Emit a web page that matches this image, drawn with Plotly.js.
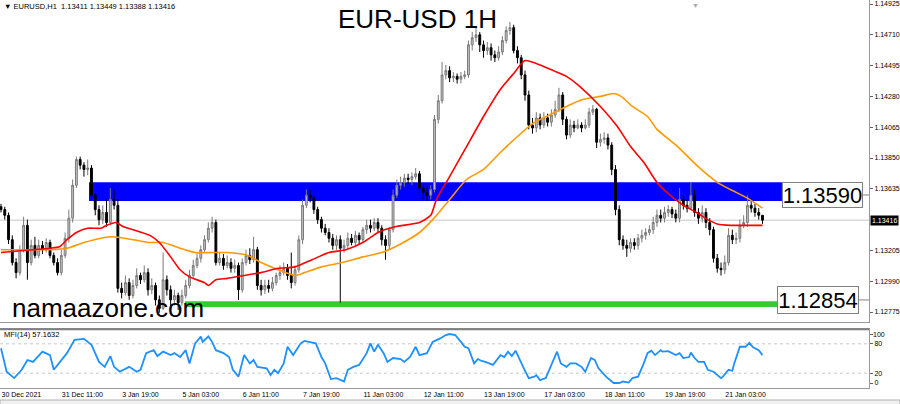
<!DOCTYPE html>
<html>
<head>
<meta charset="utf-8">
<script src="https://cdn.plot.ly/plotly-3.0.1.min.js"></script>
<style>html,body{margin:0;padding:0;background:#fff;}#chart{width:900px;height:404px;}</style>
</head>
<body>
<div id="chart"></div>
<script>
// ---- Price candles (each candle = 2 hourly bars) ----
const candleOpen = [1.1351,1.1349,1.1345,1.1328,1.1312,1.1305,1.1321,1.1338,1.1312,1.1324,1.1317,1.1324,1.1321,1.1326,1.1317,1.1312,1.1305,1.1317,1.1329,1.1343,
1.1366,1.1384,1.1380,1.1377,1.1378,1.1359,1.1349,1.1342,1.1347,1.1340,1.1356,1.1352,1.1294,1.1291,1.1298,1.1289,1.1296,1.1303,1.1300,1.1305,
1.1293,1.1296,1.1286,1.1280,1.1300,1.1293,1.1286,1.1289,1.1284,1.1289,1.1296,1.1303,1.1310,1.1315,1.1321,1.1328,1.1336,1.1340,1.1312,1.1315,
1.1310,1.1312,1.1308,1.1310,1.1293,1.1312,1.1317,1.1314,1.1321,1.1296,1.1293,1.1296,1.1294,1.1298,1.1303,1.1305,1.1308,1.1303,1.1298,1.1307,
1.1328,1.1352,1.1359,1.1357,1.1349,1.1342,1.1336,1.1333,1.1329,1.1324,1.1328,1.1322,1.1324,1.1329,1.1326,1.1331,1.1328,1.1335,1.1338,1.1336,
1.1340,1.1336,1.1328,1.1324,1.1335,1.1359,1.1366,1.1368,1.1371,1.1370,1.1372,1.1374,1.1364,1.1361,1.1359,1.1363,1.1412,1.1425,1.1443,1.1446,
1.1441,1.1442,1.1440,1.1442,1.1443,1.1464,1.1469,1.1471,1.1464,1.1460,1.1462,1.1457,1.1455,1.1459,1.1467,1.1474,1.1476,1.1460,1.1455,1.1443,
1.1429,1.1408,1.1406,1.1413,1.1408,1.1413,1.1410,1.1415,1.1419,1.1429,1.1412,1.1401,1.1408,1.1406,1.1408,1.1406,1.1408,1.1417,1.1419,1.1396,
1.1398,1.1399,1.1394,1.1377,1.1349,1.1328,1.1324,1.1322,1.1326,1.1324,1.1329,1.1331,1.1333,1.1335,1.1340,1.1345,1.1343,1.1347,1.1349,1.1346,
1.1343,1.1356,1.1352,1.1350,1.1359,1.1347,1.1343,1.1347,1.1340,1.1335,1.1315,1.1308,1.1307,1.1312,1.1331,1.1328,1.1329,1.1338,1.1340,1.1352,
1.1350,1.1347,1.1345];
const candleHigh = [1.1353,1.1351,1.1347,1.1331,1.1315,1.1324,1.1344,1.1342,1.1328,1.1330,1.1328,1.1327,1.1329,1.1328,1.1319,1.1315,1.1321,1.1333,1.1349,1.1370,
1.1386,1.1386,1.1382,1.1384,1.1380,1.1361,1.1352,1.1352,1.1356,1.1364,1.1363,1.1356,1.1298,1.1303,1.1301,1.1300,1.1308,1.1305,1.1310,1.1308,
1.1301,1.1298,1.1289,1.1319,1.1303,1.1296,1.1293,1.1291,1.1293,1.1300,1.1307,1.1314,1.1319,1.1324,1.1331,1.1340,1.1344,1.1342,1.1319,1.1318,
1.1317,1.1315,1.1314,1.1312,1.1315,1.1321,1.1322,1.1330,1.1323,1.1300,1.1300,1.1300,1.1302,1.1305,1.1310,1.1312,1.1311,1.1319,1.1310,1.1331,
1.1356,1.1363,1.1363,1.1359,1.1351,1.1344,1.1339,1.1336,1.1332,1.1331,1.1331,1.1328,1.1333,1.1332,1.1334,1.1333,1.1337,1.1342,1.1342,1.1343,
1.1343,1.1338,1.1331,1.1337,1.1363,1.1370,1.1372,1.1374,1.1374,1.1375,1.1378,1.1376,1.1367,1.1365,1.1366,1.1415,1.1429,1.1452,1.1450,1.1449,
1.1445,1.1444,1.1445,1.1446,1.1467,1.1473,1.1476,1.1473,1.1467,1.1466,1.1465,1.1460,1.1463,1.1470,1.1477,1.1480,1.1478,1.1463,1.1457,1.1446,
1.1432,1.1413,1.1417,1.1416,1.1417,1.1416,1.1419,1.1425,1.1434,1.1431,1.1414,1.1412,1.1411,1.1412,1.1410,1.1412,1.1420,1.1422,1.1420,1.1402,
1.1403,1.1402,1.1396,1.1380,1.1352,1.1331,1.1328,1.1329,1.1329,1.1332,1.1335,1.1336,1.1338,1.1344,1.1349,1.1349,1.1351,1.1352,1.1351,1.1349,
1.1364,1.1359,1.1356,1.1368,1.1363,1.1350,1.1352,1.1350,1.1343,1.1337,1.1318,1.1312,1.1317,1.1336,1.1335,1.1333,1.1342,1.1345,1.1359,1.1357,
1.1353,1.1350,1.1345];
const candleLow = [1.1347,1.1342,1.1325,1.1310,1.1301,1.1303,1.1319,1.1300,1.1310,1.1315,1.1315,1.1318,1.1319,1.1315,1.1310,1.1303,1.1303,1.1315,1.1326,1.1340,
1.1364,1.1377,1.1372,1.1373,1.1356,1.1345,1.1338,1.1339,1.1337,1.1338,1.1349,1.1291,1.1287,1.1289,1.1286,1.1287,1.1294,1.1297,1.1298,1.1289,
1.1290,1.1282,1.1277,1.1279,1.1289,1.1282,1.1282,1.1279,1.1282,1.1287,1.1294,1.1301,1.1308,1.1312,1.1319,1.1326,1.1333,1.1310,1.1310,1.1307,
1.1308,1.1305,1.1305,1.1286,1.1291,1.1310,1.1311,1.1312,1.1293,1.1289,1.1290,1.1291,1.1292,1.1296,1.1300,1.1303,1.1300,1.1294,1.1296,1.1305,
1.1325,1.1350,1.1354,1.1346,1.1339,1.1333,1.1331,1.1326,1.1321,1.1321,1.1284,1.1319,1.1321,1.1324,1.1324,1.1325,1.1326,1.1332,1.1333,1.1334,
1.1333,1.1324,1.1314,1.1321,1.1333,1.1357,1.1363,1.1365,1.1367,1.1366,1.1370,1.1361,1.1356,1.1355,1.1356,1.1361,1.1409,1.1423,1.1440,1.1438,
1.1438,1.1437,1.1437,1.1440,1.1441,1.1460,1.1466,1.1459,1.1455,1.1457,1.1453,1.1452,1.1453,1.1457,1.1465,1.1471,1.1458,1.1451,1.1440,1.1425,
1.1405,1.1402,1.1403,1.1405,1.1406,1.1407,1.1407,1.1413,1.1417,1.1408,1.1398,1.1399,1.1403,1.1405,1.1403,1.1405,1.1406,1.1415,1.1392,1.1393,
1.1395,1.1391,1.1373,1.1345,1.1324,1.1321,1.1316,1.1319,1.1321,1.1321,1.1326,1.1328,1.1331,1.1332,1.1337,1.1340,1.1340,1.1344,1.1343,1.1340,
1.1340,1.1349,1.1347,1.1349,1.1344,1.1339,1.1340,1.1336,1.1331,1.1312,1.1305,1.1303,1.1304,1.1310,1.1325,1.1325,1.1326,1.1336,1.1337,1.1347,
1.1344,1.1342,1.1339];
const candleClose = [1.1349,1.1345,1.1328,1.1312,1.1305,1.1321,1.1338,1.1312,1.1324,1.1317,1.1324,1.1321,1.1326,1.1317,1.1312,1.1305,1.1317,1.1329,1.1343,1.1366,
1.1384,1.1380,1.1377,1.1378,1.1359,1.1349,1.1342,1.1347,1.1340,1.1356,1.1352,1.1294,1.1291,1.1298,1.1289,1.1296,1.1303,1.1300,1.1305,1.1293,
1.1296,1.1286,1.1280,1.1300,1.1293,1.1286,1.1289,1.1284,1.1289,1.1296,1.1303,1.1310,1.1315,1.1321,1.1328,1.1336,1.1340,1.1312,1.1315,1.1310,
1.1312,1.1308,1.1310,1.1293,1.1312,1.1317,1.1314,1.1321,1.1296,1.1293,1.1296,1.1294,1.1298,1.1303,1.1305,1.1308,1.1303,1.1298,1.1307,1.1328,
1.1352,1.1359,1.1357,1.1349,1.1342,1.1336,1.1333,1.1329,1.1324,1.1328,1.1322,1.1324,1.1329,1.1326,1.1331,1.1328,1.1335,1.1338,1.1336,1.1340,
1.1336,1.1328,1.1324,1.1335,1.1359,1.1366,1.1368,1.1371,1.1370,1.1372,1.1374,1.1364,1.1361,1.1359,1.1363,1.1412,1.1425,1.1443,1.1446,1.1441,
1.1442,1.1440,1.1442,1.1443,1.1464,1.1469,1.1471,1.1464,1.1460,1.1462,1.1457,1.1455,1.1459,1.1467,1.1474,1.1476,1.1460,1.1455,1.1443,1.1429,
1.1408,1.1406,1.1413,1.1408,1.1413,1.1410,1.1415,1.1419,1.1429,1.1412,1.1401,1.1408,1.1406,1.1408,1.1406,1.1408,1.1417,1.1419,1.1396,1.1398,
1.1399,1.1394,1.1377,1.1349,1.1328,1.1324,1.1322,1.1326,1.1324,1.1329,1.1331,1.1333,1.1335,1.1340,1.1345,1.1343,1.1347,1.1349,1.1346,1.1343,
1.1356,1.1352,1.1350,1.1359,1.1347,1.1343,1.1347,1.1340,1.1335,1.1315,1.1308,1.1307,1.1312,1.1331,1.1328,1.1329,1.1338,1.1340,1.1352,1.1350,
1.1347,1.1345,1.13416];
const barsPerCandle = 2;

// ---- Moving averages (bar index, price) ----
const maRedBar = [0,17,26,31,35,40,46,53,56,61,65,70,79,84,90,95,100,108,110,114,120,129,138,147,156,165,174,183,192,200,209,222,228,231,238,247,256,265,272,278,286,293,300,307,318,327,334,341,348,355,362,369,375,380,387,394,404];
const maRedVal = [1.1319,1.1321,1.1322,1.1323,1.1328,1.1333,1.1336,1.1336,1.1338,1.1340,1.1337,1.1335,1.1331,1.1326,1.1316,1.1307,1.1302,1.1298,1.1296,1.1300,1.1301,1.1303,1.1305,1.1308,1.1309,1.1314,1.1319,1.1321,1.1326,1.1333,1.1337,1.1340,1.1345,1.1356,1.1372,1.1393,1.1414,1.1433,1.1444,1.1453,1.1450,1.1446,1.1442,1.1435,1.1421,1.1407,1.1393,1.1382,1.1368,1.1359,1.1352,1.1347,1.1342,1.1339,1.1338,1.1338,1.1338];
const maOrangeBar = [0,9,26,35,44,53,59,70,79,86,95,103,112,120,131,138,147,156,161,170,181,192,202,212,222,229,238,247,256,265,274,282,291,300,309,318,325,329,335,343,348,359,369,380,387,396,404];
const maOrangeVal = [1.1321,1.1321,1.1321,1.1322,1.1326,1.1329,1.1330,1.1328,1.1326,1.1326,1.1322,1.1319,1.1319,1.1319,1.1317,1.1312,1.1307,1.1303,1.1305,1.1309,1.1312,1.1316,1.1319,1.1325,1.1333,1.1342,1.1356,1.1370,1.1377,1.1389,1.1400,1.1409,1.1415,1.1421,1.1426,1.1428,1.1430,1.1428,1.1421,1.1414,1.1405,1.1393,1.1380,1.1368,1.1363,1.1357,1.1350];

// ---- MFI(14) (bar index, value) ----
const mfiBar = [0,3,7,11,14,17,22,26,28,30,33,35,39,44,48,52,55,58,60,63,68,72,74,77,81,83,86,90,92,95,98,100,103,106,107,110,112,114,118,121,123,126,129,132,134,136,141,143,145,147,150,152,155,159,161,165,167,170,172,175,178,182,184,187,190,194,196,198,200,203,205,208,212,214,217,220,222,226,229,233,236,238,241,244,246,248,250,251,253,255,257,261,265,267,269,271,273,275,277,280,283,284,286,289,291,295,297,300,302,305,308,310,313,315,317,321,325,328,330,333,335,338,341,343,345,347,350,351,354,358,360,362,365,366,368,370,373,375,378,382,383,386,388,389,392,395,397,399,402,404];
const mfiVal = [71,23,10,27,47,43,64,57,27,37,53,61,88,90,78,43,33,55,33,23,33,23,27,61,67,55,64,57,61,53,67,40,81,95,84,95,84,67,61,53,27,13,57,40,47,33,30,16,27,20,40,74,57,81,86,82,81,53,40,8,10,3,27,33,37,61,81,64,78,61,43,51,49,43,53,74,57,61,84,91,98,100,98,84,74,71,47,40,49,45,43,37,57,53,64,55,66,51,33,10,13,16,6,10,27,64,40,33,40,40,33,23,51,47,30,13,0,0,3,1,10,13,40,61,66,57,67,64,65,57,61,51,53,62,51,43,43,27,23,10,13,27,25,40,74,74,82,73,67,57];

// ---- Axis ticks ----
const priceTicks = [1.14925,1.14710,1.14495,1.14280,1.14065,1.13850,1.13635,1.13205,1.12990,1.12775];
const priceTickText = ['1.14925','1.14710','1.14495','1.14280','1.14065','1.13850','1.13635','1.13205','1.12990','1.12775'];
const timeTickBars = [0,32,64,96,128,160,192,224,256,288,320,352,384];
const timeTickText = ['30 Dec 2021','31 Dec 11:00','3 Jan 19:00','5 Jan 03:00','6 Jan 11:00','7 Jan 19:00','11 Jan 03:00','12 Jan 11:00','13 Jan 19:00','17 Jan 03:00','18 Jan 11:00','19 Jan 19:00','21 Jan 03:00'];
const mfiTicks = [0,20,80,100];
const mfiTickText = ['0','20','80',''];
const mfiTopLabel = {value:100, text:'100'};
const mfiLevels = [20,80];

// ---- Analyst levels ----
const resistanceZone = [1.1355,1.1368];   // blue band
const resistanceStartBar = 46.7;
const resistanceLabel = '1.13590';
const resistanceLabelPrice = 1.13592;
const supportZone = [1.1281,1.1285];      // green band
const supportStartBar = 97.6;
const supportLabel = '1.12854';
const supportLabelPrice = 1.12859;
const labelBar = [414.3, 411.7];
const labelEndBar = [457.3, 455.2];
const lastPrice = 1.13416;

const candleBar = candleOpen.map((_, i) => i * barsPerCandle);
const FONT = 'Liberation Sans, Arial, sans-serif';
const xRange = [-0.53, 460.5];

const traces = [
  {type:'candlestick', x:candleBar, open:candleOpen, high:candleHigh, low:candleLow, close:candleClose,
   xaxis:'x', yaxis:'y', whiskerwidth:0,
   increasing:{line:{color:'#7a7a7a', width:1}, fillcolor:'#c4c4c4'},
   decreasing:{line:{color:'#000000', width:1}, fillcolor:'#000000'},
   hoverinfo:'skip'},
  {type:'scatter', mode:'lines', x:maOrangeBar, y:maOrangeVal, xaxis:'x', yaxis:'y',
   line:{color:'#ff9900', width:1.6, shape:'spline', smoothing:0.6}, hoverinfo:'skip'},
  {type:'scatter', mode:'lines', x:maRedBar, y:maRedVal, xaxis:'x', yaxis:'y',
   line:{color:'#ff0000', width:1.6, shape:'spline', smoothing:0.6}, hoverinfo:'skip'},
  {type:'scatter', mode:'lines', x:mfiBar, y:mfiVal, xaxis:'x2', yaxis:'y2',
   line:{color:'#1e90ff', width:1.8}, hoverinfo:'skip'}
];

const axisLine = '#9a9a9a';
const tickFont = {family:FONT, size:7, color:'#000'};
const layout = {
  width:900, height:404,
  margin:{l:0, r:31, t:0, b:16},
  paper_bgcolor:'#ffffff', plot_bgcolor:'#ffffff',
  showlegend:false,
  font:{family:FONT, size:8, color:'#000'},
  xaxis:{domain:[0,1], anchor:'y', range:xRange, showticklabels:false, ticks:'',
         showgrid:false, zeroline:false, showline:true, mirror:true, linecolor:axisLine, linewidth:1,
         rangeslider:{visible:false}, fixedrange:true},
  yaxis:{domain:[0.170,1], anchor:'x', side:'right', range:[1.12705,1.14953],
         tickvals:priceTicks, ticktext:priceTickText, ticks:'outside', ticklen:3, tickcolor:'#606060',
         tickfont:tickFont, ticklabeloverflow:'allow', ticklabelstandoff:0,
         showgrid:false, zeroline:false, showline:true, mirror:true, linecolor:axisLine, linewidth:1},
  xaxis2:{domain:[0,1], anchor:'y2', range:xRange, matches:'x',
          tickvals:timeTickBars, ticktext:timeTickText, ticks:'', ticklabelposition:'outside right',
          tickfont:{family:FONT, size:7, color:'#000'}, ticklabeloverflow:'allow',
          showgrid:false, zeroline:false, showline:true, mirror:true, linecolor:axisLine, linewidth:1,
          rangeslider:{visible:false}},
  yaxis2:{domain:[0,0.152], anchor:'x2', side:'right', range:[-10.2,110.2],
          tickvals:mfiTicks, ticktext:mfiTickText, ticks:'outside', ticklen:3, tickcolor:'#606060',
          tickfont:tickFont, ticklabeloverflow:'allow', ticklabelstandoff:0,
          showgrid:false, zeroline:false, showline:true, mirror:true, linecolor:axisLine, linewidth:1},
  shapes:[
    {type:'rect', layer:'below', xref:'x', yref:'y', x0:resistanceStartBar, x1:labelBar[0],
     y0:resistanceZone[0], y1:resistanceZone[1], fillcolor:'#0000ff', line:{width:0}},
    {type:'rect', layer:'below', xref:'x', yref:'y', x0:supportStartBar, x1:labelBar[1],
     y0:supportZone[0], y1:supportZone[1], fillcolor:'#33cc33', line:{width:0}},
    {type:'line', layer:'below', xref:'x domain', yref:'y', x0:0, x1:1, y0:lastPrice, y1:lastPrice,
     line:{color:'#d9d9d9', width:1.5}},
    {type:'line', xref:'x', yref:'y', x0:labelEndBar[0], x1:xRange[1], y0:resistanceLabelPrice, y1:resistanceLabelPrice,
     line:{color:'#808080', width:1}},
    {type:'line', xref:'x', yref:'y', x0:labelEndBar[1], x1:xRange[1], y0:supportLabelPrice, y1:supportLabelPrice,
     line:{color:'#808080', width:1}},
    ...mfiLevels.map(v => ({type:'line', layer:'below', xref:'x2 domain', yref:'y2', x0:0, x1:1, y0:v, y1:v,
     line:{color:'#c8c8c8', width:1, dash:'dot'}})),
    {type:'line', xref:'x2 domain', yref:'paper', x0:0, x1:1, y0:0.1515, y1:0.1515, line:{color:'#808080', width:2}},
    {type:'rect', xref:'paper', yref:'paper', x0:0, x1:1.0357, y0:-0.031, y1:-0.045, fillcolor:'#f0f0f0', line:{color:'#b0b0b0', width:1}}
  ],
  annotations:[
    {text:'EUR-USD 1H', xref:'paper', yref:'paper', x:0.481, y:0.951, xanchor:'center', yanchor:'middle',
     showarrow:false, font:{family:FONT, size:26, color:'#000'}},
    {text:'namaazone.com', xref:'paper', yref:'paper', x:0.012, y:0.206, xanchor:'left', yanchor:'middle',
     showarrow:false, font:{family:FONT, size:26, color:'#000'}},
    {text:'▼ EURUSD,H1  1.13411 1.13449 1.13388 1.13416', xref:'paper', yref:'paper', x:0.002, y:0.982,
     xanchor:'left', yanchor:'middle', showarrow:false, font:{family:FONT, size:7.5, color:'#000'}},
    {text:'MFI(14) 57.1632', xref:'paper', yref:'paper', x:0.002, y:0.1366,
     xanchor:'left', yanchor:'middle', showarrow:false, font:{family:FONT, size:7.5, color:'#000'}},
    {text:mfiTopLabel.text, xref:'paper', yref:'y2', x:1.003, y:mfiTopLabel.value, xanchor:'left', yanchor:'middle',
     showarrow:false, borderpad:0, font:tickFont},
    {text:resistanceLabel, xref:'x', yref:'y', x:labelBar[0], y:resistanceLabelPrice, xanchor:'left', yanchor:'middle',
     showarrow:false, bgcolor:'#ffffff', bordercolor:'#808080', borderwidth:1, borderpad:0, width:79, height:24,
     font:{family:FONT, size:22, color:'#000'}},
    {text:supportLabel, xref:'x', yref:'y', x:labelBar[1], y:supportLabelPrice, xanchor:'left', yanchor:'middle',
     showarrow:false, bgcolor:'#ffffff', bordercolor:'#808080', borderwidth:1, borderpad:0, width:80, height:26,
     font:{family:FONT, size:22, color:'#000'}},
    {text:'1.13416', xref:'paper', yref:'y', x:1.001, y:lastPrice, xanchor:'left', yanchor:'middle',
     showarrow:false, bgcolor:'#000000', borderpad:1, font:{family:FONT, size:7, color:'#ffffff'}},
    {text:'▼', xref:'paper', yref:'paper', x:0.8, y:1, xanchor:'center', yanchor:'top',
     showarrow:false, font:{family:FONT, size:7, color:'#a8a8a8'}}
  ]
};

Plotly.newPlot('chart', traces, layout, {staticPlot:true, displayModeBar:false});
</script>
</body>
</html>
